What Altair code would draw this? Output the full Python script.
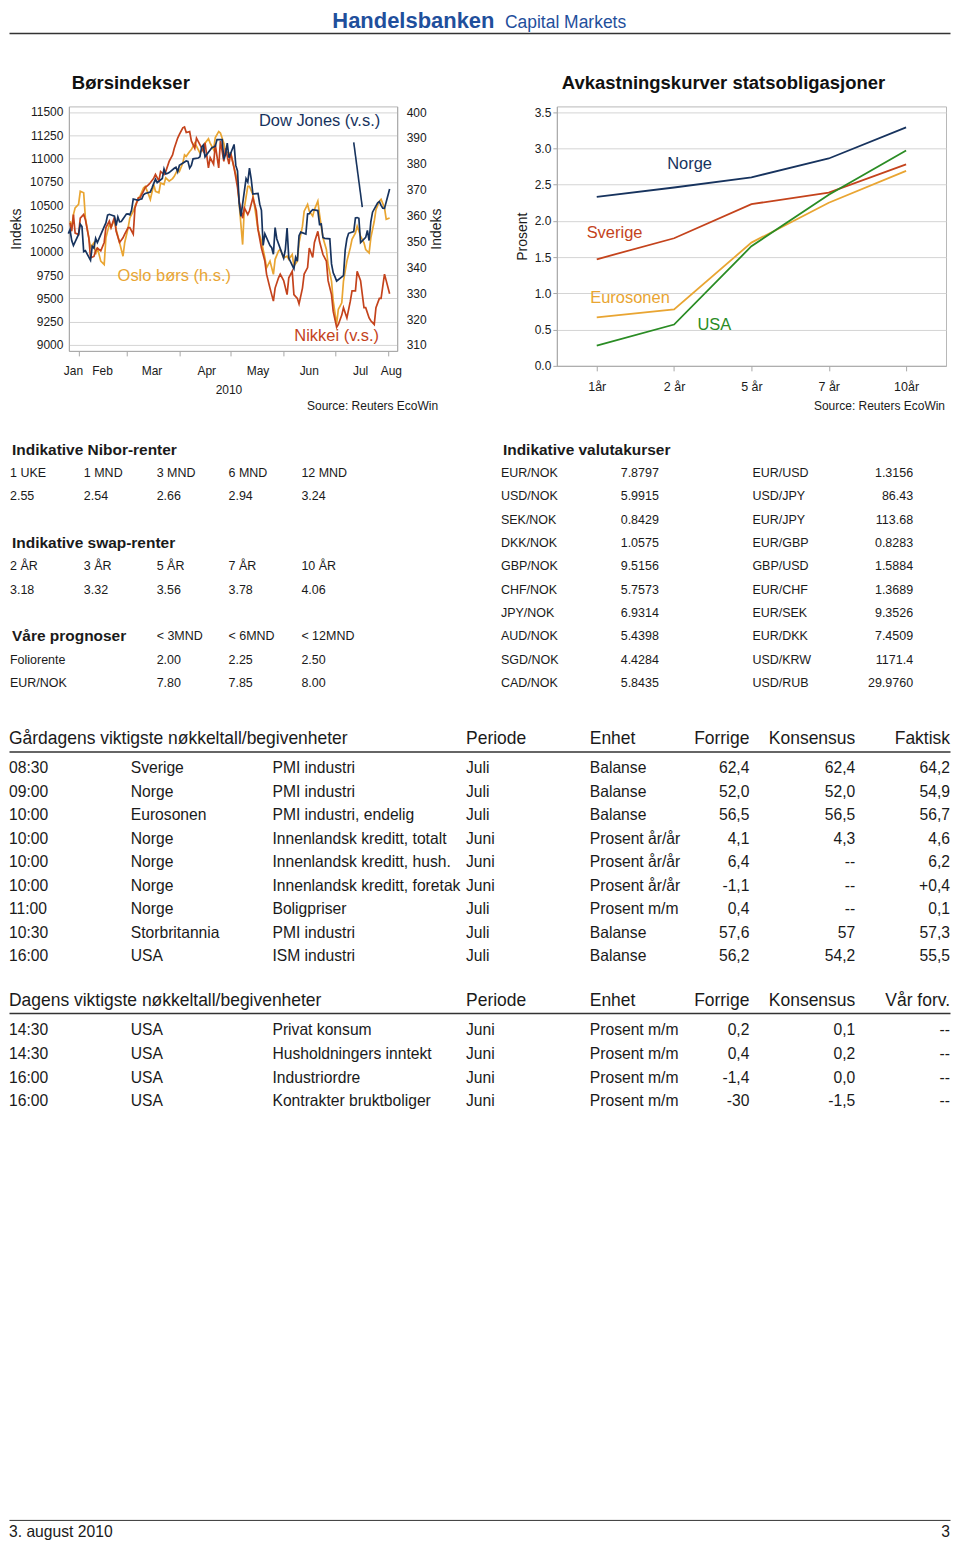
import altair as alt
import pandas as pd

# ---------------------------------------------------------------- styling
NAVY = "#17335e"
RED = "#c4431c"
ORANGE = "#e9a532"
GREEN = "#2a8c24"
INK = "#1a1a1a"
AXGRAY = "#a8a8a8"
GRID = "#d4d4d4"
FRAME = "#b8b8b8"
LOGO = "#1f4f9c"
REG = "Liberation Sans, Arial, Helvetica, sans-serif"

# ---------------------------------------------------------------- Børsindekser data
dow_dates = [
    "2010-01-26", "2010-01-27", "2010-01-28", "2010-01-29",
    "2010-02-01", "2010-02-02", "2010-02-03", "2010-02-04", "2010-02-05",
    "2010-02-08", "2010-02-09", "2010-02-10", "2010-02-11", "2010-02-12",
    "2010-02-16", "2010-02-17", "2010-02-18", "2010-02-19",
    "2010-02-22", "2010-02-23", "2010-02-24", "2010-02-25", "2010-02-26",
    "2010-03-01", "2010-03-02", "2010-03-03", "2010-03-04", "2010-03-05",
    "2010-03-08", "2010-03-09", "2010-03-10", "2010-03-11", "2010-03-12",
    "2010-03-15", "2010-03-16", "2010-03-17", "2010-03-18", "2010-03-19",
    "2010-03-22", "2010-03-23", "2010-03-24", "2010-03-25", "2010-03-26",
    "2010-03-29", "2010-03-30", "2010-03-31", "2010-04-01",
    "2010-04-05", "2010-04-06", "2010-04-07", "2010-04-08", "2010-04-09",
    "2010-04-12", "2010-04-13", "2010-04-14", "2010-04-15", "2010-04-16",
    "2010-04-19", "2010-04-20", "2010-04-21", "2010-04-22", "2010-04-23",
    "2010-04-26", "2010-04-27", "2010-04-28", "2010-04-29", "2010-04-30",
    "2010-05-03", "2010-05-04", "2010-05-05", "2010-05-06", "2010-05-07",
    "2010-05-10", "2010-05-11", "2010-05-12", "2010-05-13", "2010-05-14",
    "2010-05-17", "2010-05-18", "2010-05-19", "2010-05-20", "2010-05-21",
    "2010-05-24", "2010-05-25", "2010-05-26", "2010-05-27", "2010-05-28",
    "2010-06-01", "2010-06-02", "2010-06-03", "2010-06-04",
    "2010-06-07", "2010-06-08", "2010-06-09", "2010-06-10", "2010-06-11",
    "2010-06-14", "2010-06-15", "2010-06-16", "2010-06-17", "2010-06-18",
    "2010-06-21", "2010-06-22", "2010-06-23", "2010-06-24", "2010-06-25",
    "2010-06-28", "2010-06-29", "2010-06-30", "2010-07-01", "2010-07-02",
    "2010-07-06", "2010-07-07", "2010-07-08", "2010-07-09",
    "2010-07-12", "2010-07-13", "2010-07-14", "2010-07-15", "2010-07-16",
    "2010-07-19", "2010-07-20", "2010-07-21", "2010-07-22", "2010-07-23",
    "2010-07-26", "2010-07-27", "2010-07-28", "2010-07-29", "2010-07-30",
    "2010-08-02",
]
dow_values = [
    10194, 10236, 10120, 10067,
    10186, 10297, 10271, 10002, 10012,
    9908, 10059, 10038, 10144, 10099,
    10269, 10309, 10393, 10402,
    10383, 10282, 10374, 10321, 10325,
    10404, 10406, 10397, 10444, 10566,
    10553, 10564, 10567, 10612, 10625,
    10642, 10686, 10734, 10779, 10742,
    10786, 10889, 10836, 10841, 10850,
    10896, 10907, 10857, 10927,
    10974, 10970, 10898, 10927, 10997,
    11006, 11019, 11123, 11145, 11019,
    11092, 11117, 11125, 11134, 11204,
    11205, 10992, 11045, 11167, 11009,
    11152, 10927, 10868, 10520, 10380,
    10785, 10748, 10897, 10783, 10620,
    10626, 10511, 10444, 10068, 10193,
    10067, 10044, 9974, 10259, 10137,
    9932, 10024, 10255, 9932,
    9816, 9940, 9899, 10173, 10211,
    10191, 10405, 10409, 10434, 10451,
    10442, 10294, 10298, 10153, 10144,
    10139, 9870, 9774, 9733, 9686,
    9744, 10018, 10139, 10198,
    10216, 10363, 10367, 10359, 10098,
    10154, 10230, 10121, 10322, 10425,
    10525, 10538, 10498, 10467, 10466,
    10674,
]
sample_dates = [
    "2010-01-27", "2010-01-28", "2010-01-29", "2010-01-30", "2010-02-01", "2010-02-02",
    "2010-02-04", "2010-02-05", "2010-02-07", "2010-02-08", "2010-02-10", "2010-02-11",
    "2010-02-12", "2010-02-14", "2010-02-16", "2010-02-17", "2010-02-19", "2010-02-20",
    "2010-02-22", "2010-02-23", "2010-02-25", "2010-02-27", "2010-02-28",
    "2010-03-02", "2010-03-03", "2010-03-05", "2010-03-06", "2010-03-08", "2010-03-09",
    "2010-03-11", "2010-03-12", "2010-03-14", "2010-03-15", "2010-03-17", "2010-03-18",
    "2010-03-20", "2010-03-21", "2010-03-23", "2010-03-24", "2010-03-26", "2010-03-28",
    "2010-03-29", "2010-03-31",
    "2010-04-01", "2010-04-03", "2010-04-04", "2010-04-05", "2010-04-07", "2010-04-08",
    "2010-04-10", "2010-04-11", "2010-04-13", "2010-04-15", "2010-04-16", "2010-04-18",
    "2010-04-19", "2010-04-21", "2010-04-22", "2010-04-24", "2010-04-25", "2010-04-27",
    "2010-04-28", "2010-04-30",
    "2010-05-01", "2010-05-03", "2010-05-05", "2010-05-06", "2010-05-08", "2010-05-09",
    "2010-05-11", "2010-05-12", "2010-05-14", "2010-05-16", "2010-05-17", "2010-05-19",
    "2010-05-21", "2010-05-22", "2010-05-24", "2010-05-26", "2010-05-27", "2010-05-29",
    "2010-05-30",
    "2010-06-01", "2010-06-03", "2010-06-04", "2010-06-06", "2010-06-07", "2010-06-09",
    "2010-06-10", "2010-06-12", "2010-06-13", "2010-06-15", "2010-06-16", "2010-06-18",
    "2010-06-19", "2010-06-21", "2010-06-22", "2010-06-24", "2010-06-26", "2010-06-27",
    "2010-06-29", "2010-06-30",
    "2010-07-02", "2010-07-03", "2010-07-05", "2010-07-06", "2010-07-08", "2010-07-10",
    "2010-07-11", "2010-07-13", "2010-07-14", "2010-07-16", "2010-07-18", "2010-07-19",
    "2010-07-21", "2010-07-22", "2010-07-24", "2010-07-25", "2010-07-27", "2010-07-28",
    "2010-07-30", "2010-07-31", "2010-08-02",
]
nikkei_values = [
    10310, 10220, 10400, 10200, 10185, 10360, 10400, 10345, 10150, 9935,
    9950, 10010, 10040, 10010, 10100, 10260, 10330, 10260, 10370, 10220,
    10100, 10150, 10190,
    10260, 10260, 10190, 10470, 10580, 10580, 10650, 10690, 10720, 10740,
    10790, 10830, 10760, 10860, 10830, 10860, 10970, 11040, 11110, 11220,
    11260, 11330, 11340, 11280, 11290, 11190, 11110, 11220, 11150, 11080,
    11170, 10900, 11010, 10940, 11150, 10900, 11190, 10970, 11110, 10940,
    11060, 10900, 10690, 10540, 10360, 10470, 10400, 10440, 10580, 10440,
    10240, 10040, 9900, 9760, 9610, 9470, 9610, 9720, 9760,
    9690, 9540, 9720, 9790, 9540, 9500, 9440, 9610, 9760, 9830,
    10040, 9940, 10100, 10220, 10110, 9970, 9900, 9690, 9540, 9360,
    9190, 9220, 9320, 9400, 9290, 9470, 9580, 9580, 9790, 9690,
    9400, 9400, 9290, 9260, 9220, 9400, 9500, 9500, 9760, 9690, 9550,
]
oslo_values = [
    357.8, 355.3, 360.4, 363.0, 364.3, 369.4, 368.8, 359.1, 351.4, 347.6,
    349.5, 345.0, 347.6, 342.4, 341.1, 351.4, 356.6, 355.3, 358.5, 354.6,
    349.5, 344.3, 349.5,
    355.3, 359.1, 361.7, 363.6, 366.8, 367.5, 370.7, 371.3, 368.1, 366.2,
    372.0, 369.4, 368.8, 372.6, 372.0, 374.6, 373.3, 374.3, 375.2, 377.8,
    377.1, 380.3, 383.5, 382.9, 384.8, 385.5, 388.0, 386.8, 384.2, 385.9,
    388.0, 389.7, 388.0, 385.5, 390.2, 392.5, 391.9, 388.0, 384.8, 384.2,
    384.2, 378.4, 373.3, 364.3, 348.8, 363.0, 371.3, 371.3, 368.1, 359.1,
    354.6, 350.1, 343.7, 339.8, 342.4, 337.3, 343.1, 346.3, 346.9,
    343.7, 344.3, 343.1, 345.0, 340.5, 342.4, 349.5, 355.9, 361.7, 364.3,
    361.7, 359.8, 362.3, 365.6, 360.4, 351.4, 346.9, 341.1, 334.7, 327.0,
    318.0, 323.8, 326.3, 334.7, 342.4, 347.6, 350.8, 353.3, 355.9, 352.1,
    349.5, 346.9, 345.6, 351.4, 357.8, 362.3, 365.6, 366.3, 363.0, 358.6, 359.1,
]
left_ticks = [9000, 9250, 9500, 9750, 10000, 10250, 10500, 10750, 11000, 11250, 11500]
right_ticks = [310, 320, 330, 340, 350, 360, 370, 380, 390, 400]
month_names = ["Jan", "Feb", "Mar", "Apr", "May", "Jun", "Jul", "Aug"]
month_mid_dates = ["2010-01-29", "2010-02-15", "2010-03-16", "2010-04-17",
                   "2010-05-17", "2010-06-16", "2010-07-16", "2010-08-03"]
year_label = ["2010"]
year_label_date = ["2010-04-30"]
stock_label_text = ["Dow Jones (v.s.)", "Nikkei (v.s.)", "Oslo børs (h.s.)"]
stock_label_dates = ["2010-06-22", "2010-07-02", "2010-03-29"]
stock_label_values = [11400, 9096, 336.6]
pointer_dates = ["2010-07-12", "2010-07-17"]
pointer_values = [11175, 10479]

# ---------------------------------------------------------------- yield curve data
tenors = ["1år", "2 år", "5 år", "7 år", "10år"]
countries = ["Norge", "Sverige", "Eurosonen", "USA"]
yield_norge = [2.33, 2.46, 2.60, 2.86, 3.29]
yield_sverige = [1.47, 1.76, 2.23, 2.39, 2.78]
yield_euro = [0.67, 0.78, 1.70, 2.25, 2.69]
yield_usa = [0.28, 0.57, 1.65, 2.36, 2.97]
yield_label_x = [1.20, 0.23, 0.43, 1.52]
yield_label_y = [2.78, 1.83, 0.94, 0.56]
yield_ticks = [0.0, 0.5, 1.0, 1.5, 2.0, 2.5, 3.0, 3.5]

# ---------------------------------------------------------------- tables
nibor_terms = ["1 UKE", "1 MND", "3 MND", "6 MND", "12 MND"]
nibor_rates = ["2.55", "2.54", "2.66", "2.94", "3.24"]
swap_terms = ["2 ÅR", "3 ÅR", "5 ÅR", "7 ÅR", "10 ÅR"]
swap_rates = ["3.18", "3.32", "3.56", "3.78", "4.06"]
prog_horizons = ["< 3MND", "< 6MND", "< 12MND"]
prog_items = ["Foliorente", "EUR/NOK"]
prog_values = [["2.00", "2.25", "2.50"], ["7.80", "7.85", "8.00"]]
left_titles = ["Indikative Nibor-renter", "Indikative swap-renter", "Våre prognoser"]

fx_title = "Indikative valutakurser"
fx_pairs_a = ["EUR/NOK", "USD/NOK", "SEK/NOK", "DKK/NOK", "GBP/NOK",
              "CHF/NOK", "JPY/NOK", "AUD/NOK", "SGD/NOK", "CAD/NOK"]
fx_rates_a = ["7.8797", "5.9915", "0.8429", "1.0575", "9.5156",
              "5.7573", "6.9314", "5.4398", "4.4284", "5.8435"]
fx_pairs_b = ["EUR/USD", "USD/JPY", "EUR/JPY", "EUR/GBP", "GBP/USD",
              "EUR/CHF", "EUR/SEK", "EUR/DKK", "USD/KRW", "USD/RUB"]
fx_rates_b = ["1.3156", "86.43", "113.68", "0.8283", "1.5884",
              "1.3689", "9.3526", "7.4509", "1171.4", "29.9760"]

ev1_header = ["Gårdagens viktigste nøkkeltall/begivenheter", "Periode", "Enhet",
              "Forrige", "Konsensus", "Faktisk"]
ev1_time = ["08:30", "09:00", "10:00", "10:00", "10:00", "10:00", "11:00", "10:30", "16:00"]
ev1_country = ["Sverige", "Norge", "Eurosonen", "Norge", "Norge", "Norge", "Norge",
               "Storbritannia", "USA"]
ev1_event = ["PMI industri", "PMI industri", "PMI industri, endelig",
             "Innenlandsk kreditt, totalt", "Innenlandsk kreditt, hush.",
             "Innenlandsk kreditt, foretak", "Boligpriser", "PMI industri", "ISM industri"]
ev1_period = ["Juli", "Juli", "Juli", "Juni", "Juni", "Juni", "Juli", "Juli", "Juli"]
ev1_unit = ["Balanse", "Balanse", "Balanse", "Prosent år/år", "Prosent år/år",
            "Prosent år/år", "Prosent m/m", "Balanse", "Balanse"]
ev1_prev = ["62,4", "52,0", "56,5", "4,1", "6,4", "-1,1", "0,4", "57,6", "56,2"]
ev1_cons = ["62,4", "52,0", "56,5", "4,3", "--", "--", "--", "57", "54,2"]
ev1_actual = ["64,2", "54,9", "56,7", "4,6", "6,2", "+0,4", "0,1", "57,3", "55,5"]

ev2_header = ["Dagens viktigste nøkkeltall/begivenheter", "Periode", "Enhet",
              "Forrige", "Konsensus", "Vår forv."]
ev2_time = ["14:30", "14:30", "16:00", "16:00"]
ev2_country = ["USA", "USA", "USA", "USA"]
ev2_event = ["Privat konsum", "Husholdningers inntekt", "Industriordre", "Kontrakter bruktboliger"]
ev2_period = ["Juni", "Juni", "Juni", "Juni"]
ev2_unit = ["Prosent m/m", "Prosent m/m", "Prosent m/m", "Prosent m/m"]
ev2_prev = ["0,2", "0,4", "-1,4", "-30"]
ev2_cons = ["0,1", "0,2", "0,0", "-1,5"]
ev2_ours = ["--", "--", "--", "--"]

footer_left = "3. august 2010"
footer_right = "3"

# ================================================================ helpers
one = pd.DataFrame({"k": [0]})


def txt(x, y, text, size, align="left", weight="normal", color=INK):
    return alt.Chart(one).mark_text(
        text=text, align=align, baseline="alphabetic", fontSize=size,
        fontWeight=weight, color=color, font=REG,
    ).encode(x=alt.value(x), y=alt.value(y))


def hrule(x1, x2, y, color, width):
    return alt.Chart(one).mark_rule(color=color, strokeWidth=width).encode(
        x=alt.value(x1), x2=alt.value(x2), y=alt.value(y))


def rows_y(domain, rng):
    return alt.Y("r:Q", scale=alt.Scale(domain=domain, range=rng, nice=False, zero=False), axis=None)


def col(rows, texts, x, yenc, align="left", size=12.5, weight="normal"):
    df = pd.DataFrame({"r": rows, "t": texts})
    return alt.Chart(df).mark_text(
        align=align, baseline="middle", font=REG, fontSize=size,
        fontWeight=weight, color=INK,
    ).encode(x=alt.value(x), y=yenc, text="t:N")


# ================================================================ page-level text layer
P = []
P.append(hrule(0.5, 943, -95.5, "white", 1))  # invisible top anchor
P.append(txt(324, -79, "Handelsbanken", 22, weight="bold", color=LOGO))
P.append(txt(497, -79, "Capital Markets", 17.5, color=LOGO))
P.append(hrule(0.5, 943.5, -73, "#333333", 1.5))
P.append(txt(63, -17, "Børsindekser", 18.5, weight="bold", color="#111111"))
P.append(txt(554, -17, "Avkastningskurver statsobligasjoner", 18.5, weight="bold", color="#111111"))

# left info tables (rows 0..10)
ytab = rows_y([0, 10], [344, 578])
P.append(col([0, 4, 8], left_titles, 3, ytab, size=15.5, weight="bold"))
left_x = [1, 75, 148, 220, 293]
for c in range(5):
    rows = [1, 2, 5, 6]
    texts = [nibor_terms[c], nibor_rates[c], swap_terms[c], swap_rates[c]]
    if c >= 2:
        rows += [8, 9, 10]
        texts += [prog_horizons[c - 2], prog_values[0][c - 2], prog_values[1][c - 2]]
    if c == 0:
        rows += [9, 10]
        texts += prog_items
    P.append(col(rows, texts, left_x[c], ytab))

# currency table
fx_rows = list(range(1, 11))
P.append(col([0], [fx_title], 495, ytab, size=15.5, weight="bold"))
P.append(col(fx_rows, fx_pairs_a, 493, ytab))
P.append(col(fx_rows, fx_rates_a, 613, ytab))
P.append(col(fx_rows, fx_pairs_b, 745, ytab))
P.append(col(fx_rows, fx_rates_b, 906, ytab, align="right"))

# event tables
ev_left_x = [0, 122, 264, 458, 582]
ev_right_x = [742, 848, 943]
hdr_x = [(0, "left"), (458, "left"), (582, "left"), (742, "right"), (848, "right"), (943, "right")]


def event_table(yenc, header, left_cols, right_cols, hdr_r, line_r):
    out = []
    n = len(left_cols[0])
    for (x, al), h in zip(hdr_x, header):
        out.append(col([hdr_r], [h], x, yenc, align=al, size=17.5))
    out.append(alt.Chart(pd.DataFrame({"r": [line_r]})).mark_rule(color="#333333", strokeWidth=1.5).encode(
        x=alt.value(0.5), x2=alt.value(943.5), y=yenc))
    for x, vals in zip(ev_left_x, left_cols):
        out.append(col(list(range(n)), vals, x, yenc, size=15.7))
    for x, vals in zip(ev_right_x, right_cols):
        out.append(col(list(range(n)), vals, x, yenc, align="right", size=15.7))
    return out


yev1 = rows_y([0, 8], [663, 851.8])
P += event_table(yev1, ev1_header,
                 [ev1_time, ev1_country, ev1_event, ev1_period, ev1_unit],
                 [ev1_prev, ev1_cons, ev1_actual], -1.23, -0.68)
yev2 = rows_y([0, 3], [926, 996.8])
P += event_table(yev2, ev2_header,
                 [ev2_time, ev2_country, ev2_event, ev2_period, ev2_unit],
                 [ev2_prev, ev2_cons, ev2_ours], -1.27, -0.72)

# footer
P.append(hrule(0.5, 943.5, 1417, "#333333", 1))
P.append(txt(0, 1434, footer_left, 15.7))
P.append(txt(943, 1434, footer_right, 15.7, align="right"))

page = alt.layer(*P).resolve_scale(y="independent").properties(width=60, height=10)

# ================================================================ Børsindekser chart
def utc(y, m, d, h=0):
    return alt.DateTime(year=y, month=m, date=d, hours=h, utc=True)


stock_x = alt.X(
    "date:T",
    scale=alt.Scale(type="utc", domain=[utc(2010, 1, 26, 8), utc(2010, 8, 6, 10)]),
    axis=alt.Axis(values=[utc(2010, m, 1) for m in range(2, 9)], labels=False, grid=False,
                  title=None, tickSize=5, tickColor=AXGRAY, domainColor=AXGRAY),
)
left_y = alt.Y(
    "value:Q",
    scale=alt.Scale(domain=[8936, 11560], nice=False, zero=False),
    axis=alt.Axis(orient="left", values=left_ticks, format="d", grid=True, gridColor=GRID,
                  domainColor=AXGRAY, ticks=False, labelPadding=6, labelFont=REG,
                  labelFontSize=12, labelColor=INK, title="Indeks", titleFont=REG,
                  titleFontSize=14, titleFontWeight="normal", titleColor=INK, titlePadding=6),
)
right_y = alt.Y(
    "value:Q",
    scale=alt.Scale(domain=[307.7, 402.2], nice=False, zero=False),
    axis=alt.Axis(orient="right", values=right_ticks, format="d", grid=False,
                  domainColor=AXGRAY, ticks=False, labelPadding=9, labelFont=REG,
                  labelFontSize=12, labelColor=INK, title="Indeks", titleAngle=270,
                  titleBaseline="top", titleFont=REG, titleFontSize=14,
                  titleFontWeight="normal", titleColor=INK, titlePadding=3),
)

dow_df = pd.DataFrame({"date": dow_dates, "value": dow_values})
nik_df = pd.DataFrame({"date": sample_dates, "value": nikkei_values})
osl_df = pd.DataFrame({"date": sample_dates, "value": oslo_values})


def stock_label(i, color, yenc):
    df = pd.DataFrame({"date": [stock_label_dates[i]], "value": [stock_label_values[i]],
                       "t": [stock_label_text[i]]})
    return alt.Chart(df).mark_text(font=REG, fontSize=16.5, color=color, baseline="middle").encode(
        x=stock_x, y=yenc, text="t:N")


ptr_df = pd.DataFrame({"date": [pointer_dates[0]], "date2": [pointer_dates[1]],
                       "value": [pointer_values[0]], "value2": [pointer_values[1]]})
month_df = pd.DataFrame({"date": month_mid_dates, "t": month_names})
year_df = pd.DataFrame({"date": year_label_date, "t": year_label})
src_df = pd.DataFrame({"t": ["Source: Reuters EcoWin"]})

stock_right = alt.layer(
    alt.Chart(osl_df).mark_line(color=ORANGE, strokeWidth=1.7).encode(x=stock_x, y=right_y),
    stock_label(2, ORANGE, right_y),
)
stock_left = alt.layer(
    alt.Chart(nik_df).mark_line(color=RED, strokeWidth=1.7).encode(x=stock_x, y=left_y),
    alt.Chart(dow_df).mark_line(color=NAVY, strokeWidth=1.7).encode(x=stock_x, y=left_y),
    stock_label(0, NAVY, left_y),
    stock_label(1, RED, left_y),
    alt.Chart(ptr_df).mark_rule(color=NAVY, strokeWidth=1.6).encode(
        x=stock_x, x2="date2:T", y=left_y, y2="value2:Q"),
    alt.Chart(month_df).mark_text(font=REG, fontSize=12, color=INK, baseline="middle").encode(
        x=stock_x, y=alt.value(265), text="t:N"),
    alt.Chart(year_df).mark_text(font=REG, fontSize=12, color=INK, baseline="middle").encode(
        x=stock_x, y=alt.value(284), text="t:N"),
    alt.Chart(src_df).mark_text(font=REG, fontSize=12, color=INK, align="right",
                                baseline="middle").encode(
        x=alt.value(370), y=alt.value(300), text="t:N"),
)
stock = alt.layer(stock_right, stock_left).resolve_scale(y="independent").properties(
    width=329, height=245, view=alt.ViewBackground(stroke=FRAME, strokeWidth=1))

# ================================================================ yield chart
yc_rows = []
for land, vals in zip(countries, [yield_norge, yield_sverige, yield_euro, yield_usa]):
    for i, v in enumerate(vals):
        yc_rows.append({"land": land, "t": i, "v": v})
yc_df = pd.DataFrame(yc_rows)
ylab_df = pd.DataFrame({"land": countries, "t": yield_label_x, "v": yield_label_y})

label_expr = "[" + ",".join("'%s'" % s for s in tenors) + "][datum.value]"
yx = alt.X("t:Q", scale=alt.Scale(domain=[-0.516, 4.516], nice=False, zero=False),
           axis=alt.Axis(values=list(range(len(tenors))), labelExpr=label_expr, grid=False,
                         title=None, tickSize=5, tickColor=AXGRAY, domainColor=AXGRAY,
                         labelFont=REG, labelFontSize=12.5, labelColor=INK, labelPadding=10))
yy = alt.Y("v:Q", scale=alt.Scale(domain=[0, 3.578], nice=False, zero=False),
           axis=alt.Axis(values=yield_ticks, format=".1f", grid=True, gridColor=GRID,
                         domainColor=AXGRAY, tickColor=AXGRAY, tickSize=4, labelPadding=2,
                         labelFont=REG, labelFontSize=12, labelColor=INK, title="Prosent",
                         titleFont=REG, titleFontSize=14, titleFontWeight="normal",
                         titleColor=INK, titlePadding=5))
ycol = alt.Color("land:N", scale=alt.Scale(domain=countries, range=[NAVY, RED, ORANGE, GREEN]),
                 legend=None)

yield_chart = alt.layer(
    alt.Chart(yc_df).mark_line(strokeWidth=1.8).encode(x=yx, y=yy, color=ycol),
    alt.Chart(ylab_df).mark_text(font=REG, fontSize=16.5, baseline="middle").encode(
        x=yx, y=yy, text="land:N", color=ycol),
    alt.Chart(src_df).mark_text(font=REG, fontSize=12, color=INK, align="right",
                                baseline="middle").encode(
        x=alt.value(389), y=alt.value(300), text="t:N"),
).properties(width=390, height=260, view=alt.ViewBackground(stroke=FRAME, strokeWidth=1))

gap = alt.Chart(one).mark_point(opacity=0).properties(width=160, height=10)

chart = alt.hconcat(page, stock, gap, yield_chart, spacing=0, bounds="flush").properties(
    padding=0).configure_view(stroke=None)

chart.save("out.html", embed_options={"renderer": "svg", "actions": False})
